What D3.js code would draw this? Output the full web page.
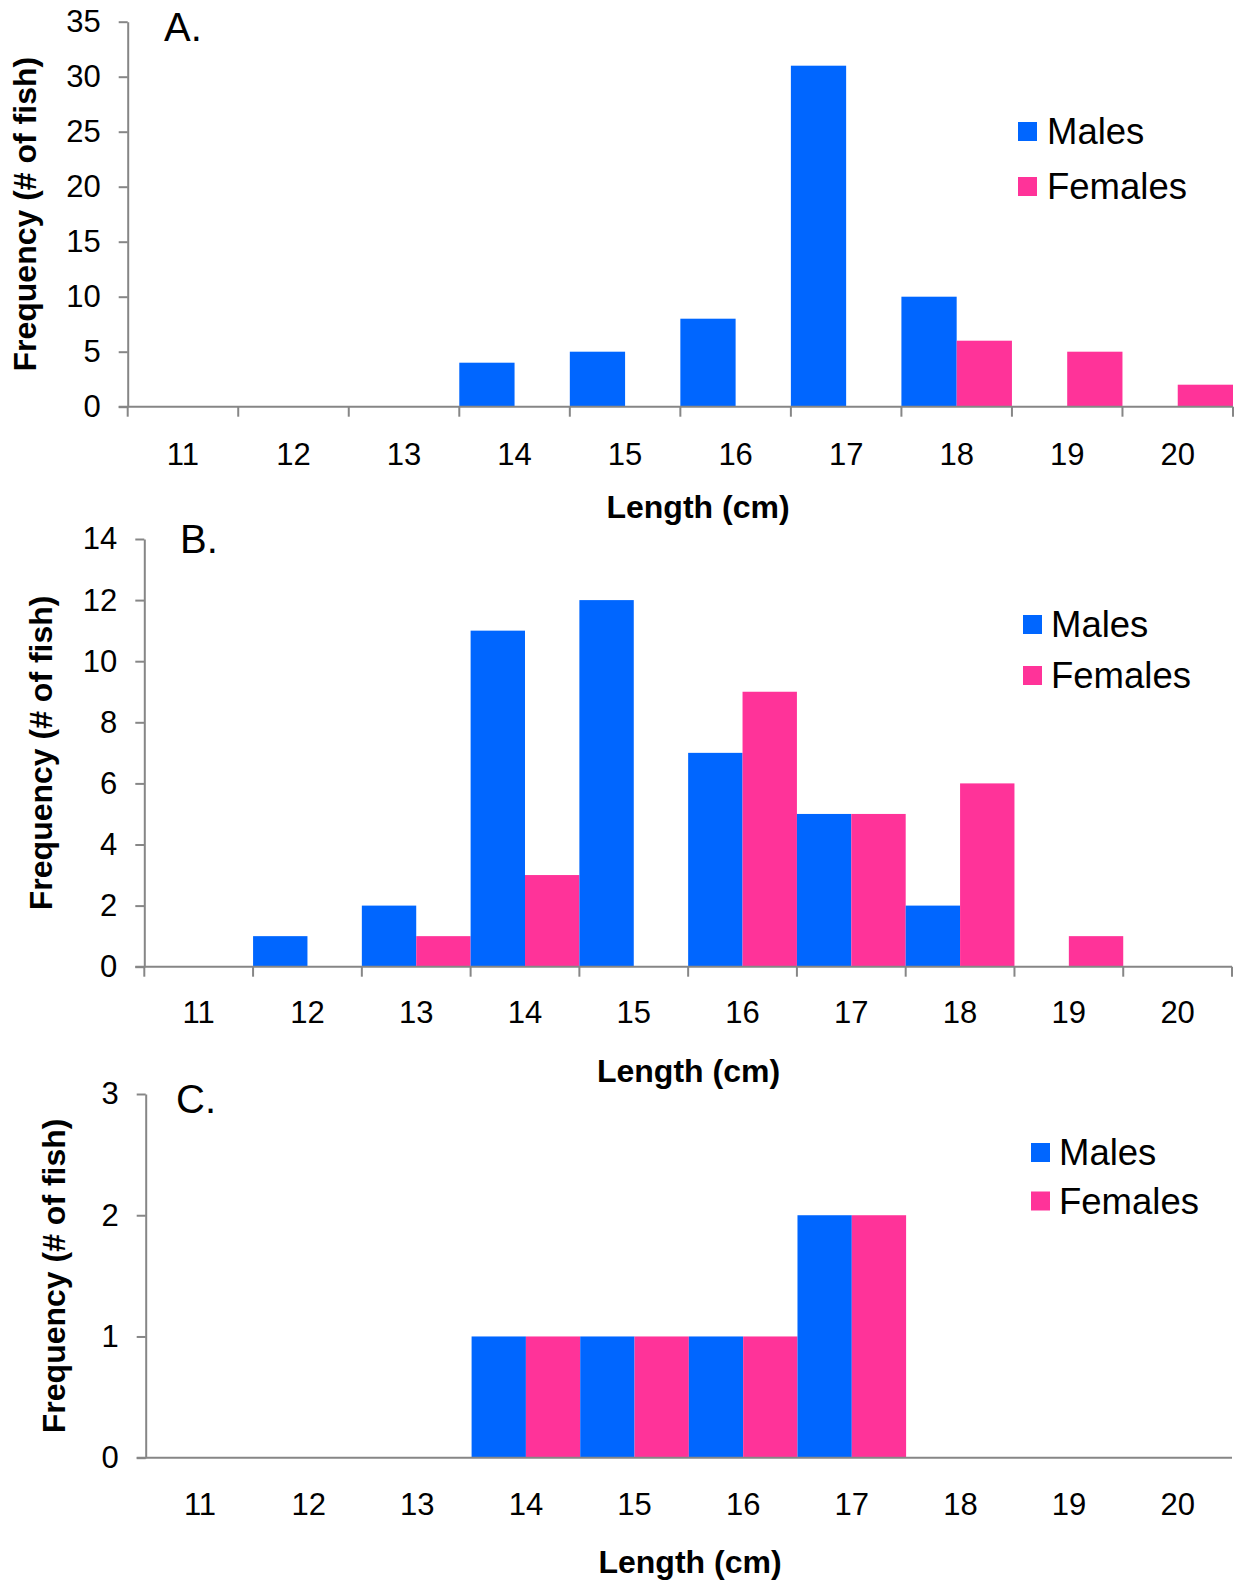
<!DOCTYPE html>
<html>
<head>
<meta charset="utf-8">
<script src="https://cdn.jsdelivr.net/npm/d3@7"></script>
<style>
  body { margin: 0; background: #fff; }
  svg { display: block; font-family: 'Liberation Sans', Arial, sans-serif; }
</style>
</head>
<body>
<div id="chart"></div>
<script>
const lengths = ['11', '12', '13', '14', '15', '16', '17', '18', '19', '20'];
const seriesNames = ['Males', 'Females'];
const seriesColors = ['#0066ff', '#ff3399'];

const malesA = [0, 0, 0, 4, 5, 8, 31, 10, 0, 0];
const femalesA = [0, 0, 0, 0, 0, 0, 0, 6, 5, 2];
const yTicksA = [0, 5, 10, 15, 20, 25, 30, 35];

const malesB = [0, 1, 2, 11, 12, 7, 5, 2, 0, 0];
const femalesB = [0, 0, 1, 3, 0, 9, 5, 6, 1, 0];
const yTicksB = [0, 2, 4, 6, 8, 10, 12, 14];

const malesC = [0, 0, 0, 1, 1, 1, 2, 0, 0, 0];
const femalesC = [0, 0, 0, 1, 1, 1, 2, 0, 0, 0];
const yTicksC = [0, 1, 2, 3];

const W = 1238, H = 1583;
const axisColor = '#868686';
const tickFont = 31;

const svg = d3.select('#chart').append('svg')
  .attr('width', W)
  .attr('height', H);

const panels = [
  {
    letter: 'A.', males: malesA, females: femalesA, yTicks: yTicksA,
    left: 127.7, right: 1233, top: 21.7, bottom: 406.7,
    letterX: 164, letterY: 41,
    yTitleX: 35.5, xTitleX: 698, xTitleY: 518, xLabelY: 465,
    legendX: 1018, legendY: 122, legendStep: 55, legendTextX: 1047,
    xTicks: true,
  },
  {
    letter: 'B.', males: malesB, females: femalesB, yTicks: yTicksB,
    left: 144.3, right: 1232, top: 539, bottom: 966.7,
    letterX: 180, letterY: 553,
    yTitleX: 52, xTitleX: 688.5, xTitleY: 1082, xLabelY: 1023,
    legendX: 1023, legendY: 615, legendStep: 51, legendTextX: 1051,
    xTicks: true,
  },
  {
    letter: 'C.', males: malesC, females: femalesC, yTicks: yTicksC,
    left: 145.7, right: 1232, top: 1094, bottom: 1457.7,
    letterX: 176, letterY: 1113,
    yTitleX: 65, xTitleX: 690, xTitleY: 1573, xLabelY: 1515,
    legendX: 1031, legendY: 1143, legendStep: 48.5, legendTextX: 1059,
    xTicks: false,
  },
];

panels.forEach(drawPanel);

function drawPanel(p) {
  const g = svg.append('g');

  const x = d3.scaleBand().domain(lengths).range([p.left, p.right]).padding(0);
  const xs = d3.scaleBand().domain(seriesNames).range([0, x.bandwidth()]).padding(0);
  const y = d3.scaleLinear()
    .domain([0, d3.max(p.yTicks)])
    .range([p.bottom, p.top]);

  const rows = lengths.map((len, i) => ({
    len,
    values: [
      { name: 'Males', value: p.males[i] },
      { name: 'Females', value: p.females[i] },
    ],
  }));

  // Bars
  const groups = g.selectAll('.bin')
    .data(rows)
    .enter()
    .append('g')
    .attr('class', 'bin')
    .attr('transform', (d) => `translate(${x(d.len)},0)`);

  groups.selectAll('rect')
    .data((d) => d.values.filter((v) => v.value > 0))
    .enter()
    .append('rect')
    .attr('x', (d) => xs(d.name))
    .attr('width', xs.bandwidth())
    .attr('y', (d) => y(d.value))
    .attr('height', (d) => y(0) - y(d.value))
    .attr('fill', (d) => seriesColors[seriesNames.indexOf(d.name)]);

  // Y axis
  const yAxis = g.append('g')
    .attr('transform', `translate(${p.left},0)`)
    .call(d3.axisLeft(y)
      .tickValues(p.yTicks)
      .tickFormat(d3.format('d'))
      .tickSize(9)
      .tickSizeOuter(0)
      .tickPadding(18));
  yAxis.attr('font-size', null).attr('font-family', null);
  yAxis.select('.domain').attr('stroke', axisColor).attr('stroke-width', 2);
  yAxis.selectAll('.tick line').attr('stroke', axisColor).attr('stroke-width', 2);
  yAxis.selectAll('.tick text')
    .style('font-size', tickFont + 'px')
    .attr('fill', '#000');

  // X axis: labels centred in bins, ticks at bin edges
  const xAxis = g.append('g')
    .attr('transform', `translate(0,${p.bottom})`)
    .call(d3.axisBottom(x).tickSize(0).tickPadding(0));
  xAxis.attr('font-size', null).attr('font-family', null);
  xAxis.select('.domain').remove();
  xAxis.selectAll('.tick text')
    .attr('y', p.xLabelY - p.bottom)
    .attr('dy', 0)
    .style('font-size', tickFont + 'px')
    .attr('fill', '#000');

  g.append('line')
    .attr('x1', p.left - 9)
    .attr('x2', x.range()[1])
    .attr('y1', y(0))
    .attr('y2', y(0))
    .attr('stroke', axisColor)
    .attr('stroke-width', 2);

  if (p.xTicks) {
    const edges = lengths.map((l) => x(l)).concat([x.range()[1]]);
    g.selectAll('.edge-tick')
      .data(edges)
      .enter()
      .append('line')
      .attr('x1', (d) => d)
      .attr('x2', (d) => d)
      .attr('y1', y(0))
      .attr('y2', y(0) + 10)
      .attr('stroke', axisColor)
      .attr('stroke-width', 2);
  }

  // Panel letter
  g.append('text')
    .attr('x', p.letterX)
    .attr('y', p.letterY)
    .attr('font-size', 40)
    .text(p.letter);

  // Axis titles
  g.append('text')
    .attr('transform', `translate(${p.yTitleX},${(p.top + p.bottom) / 2}) rotate(-90)`)
    .attr('text-anchor', 'middle')
    .attr('font-size', 32)
    .attr('font-weight', 'bold')
    .text('Frequency (# of fish)');

  g.append('text')
    .attr('x', p.xTitleX)
    .attr('y', p.xTitleY)
    .attr('text-anchor', 'middle')
    .attr('font-size', 32)
    .attr('font-weight', 'bold')
    .text('Length (cm)');

  // Legend
  const legend = g.selectAll('.legend-item')
    .data(seriesNames)
    .enter()
    .append('g')
    .attr('class', 'legend-item')
    .attr('transform', (d, i) => `translate(0,${p.legendY + i * p.legendStep})`);

  legend.append('rect')
    .attr('x', p.legendX)
    .attr('y', 0)
    .attr('width', 19)
    .attr('height', 19)
    .attr('fill', (d, i) => seriesColors[i]);

  legend.append('text')
    .attr('x', p.legendTextX)
    .attr('y', 22)
    .attr('font-size', 36.5)
    .text((d) => d);
}
</script>
</body>
</html>
